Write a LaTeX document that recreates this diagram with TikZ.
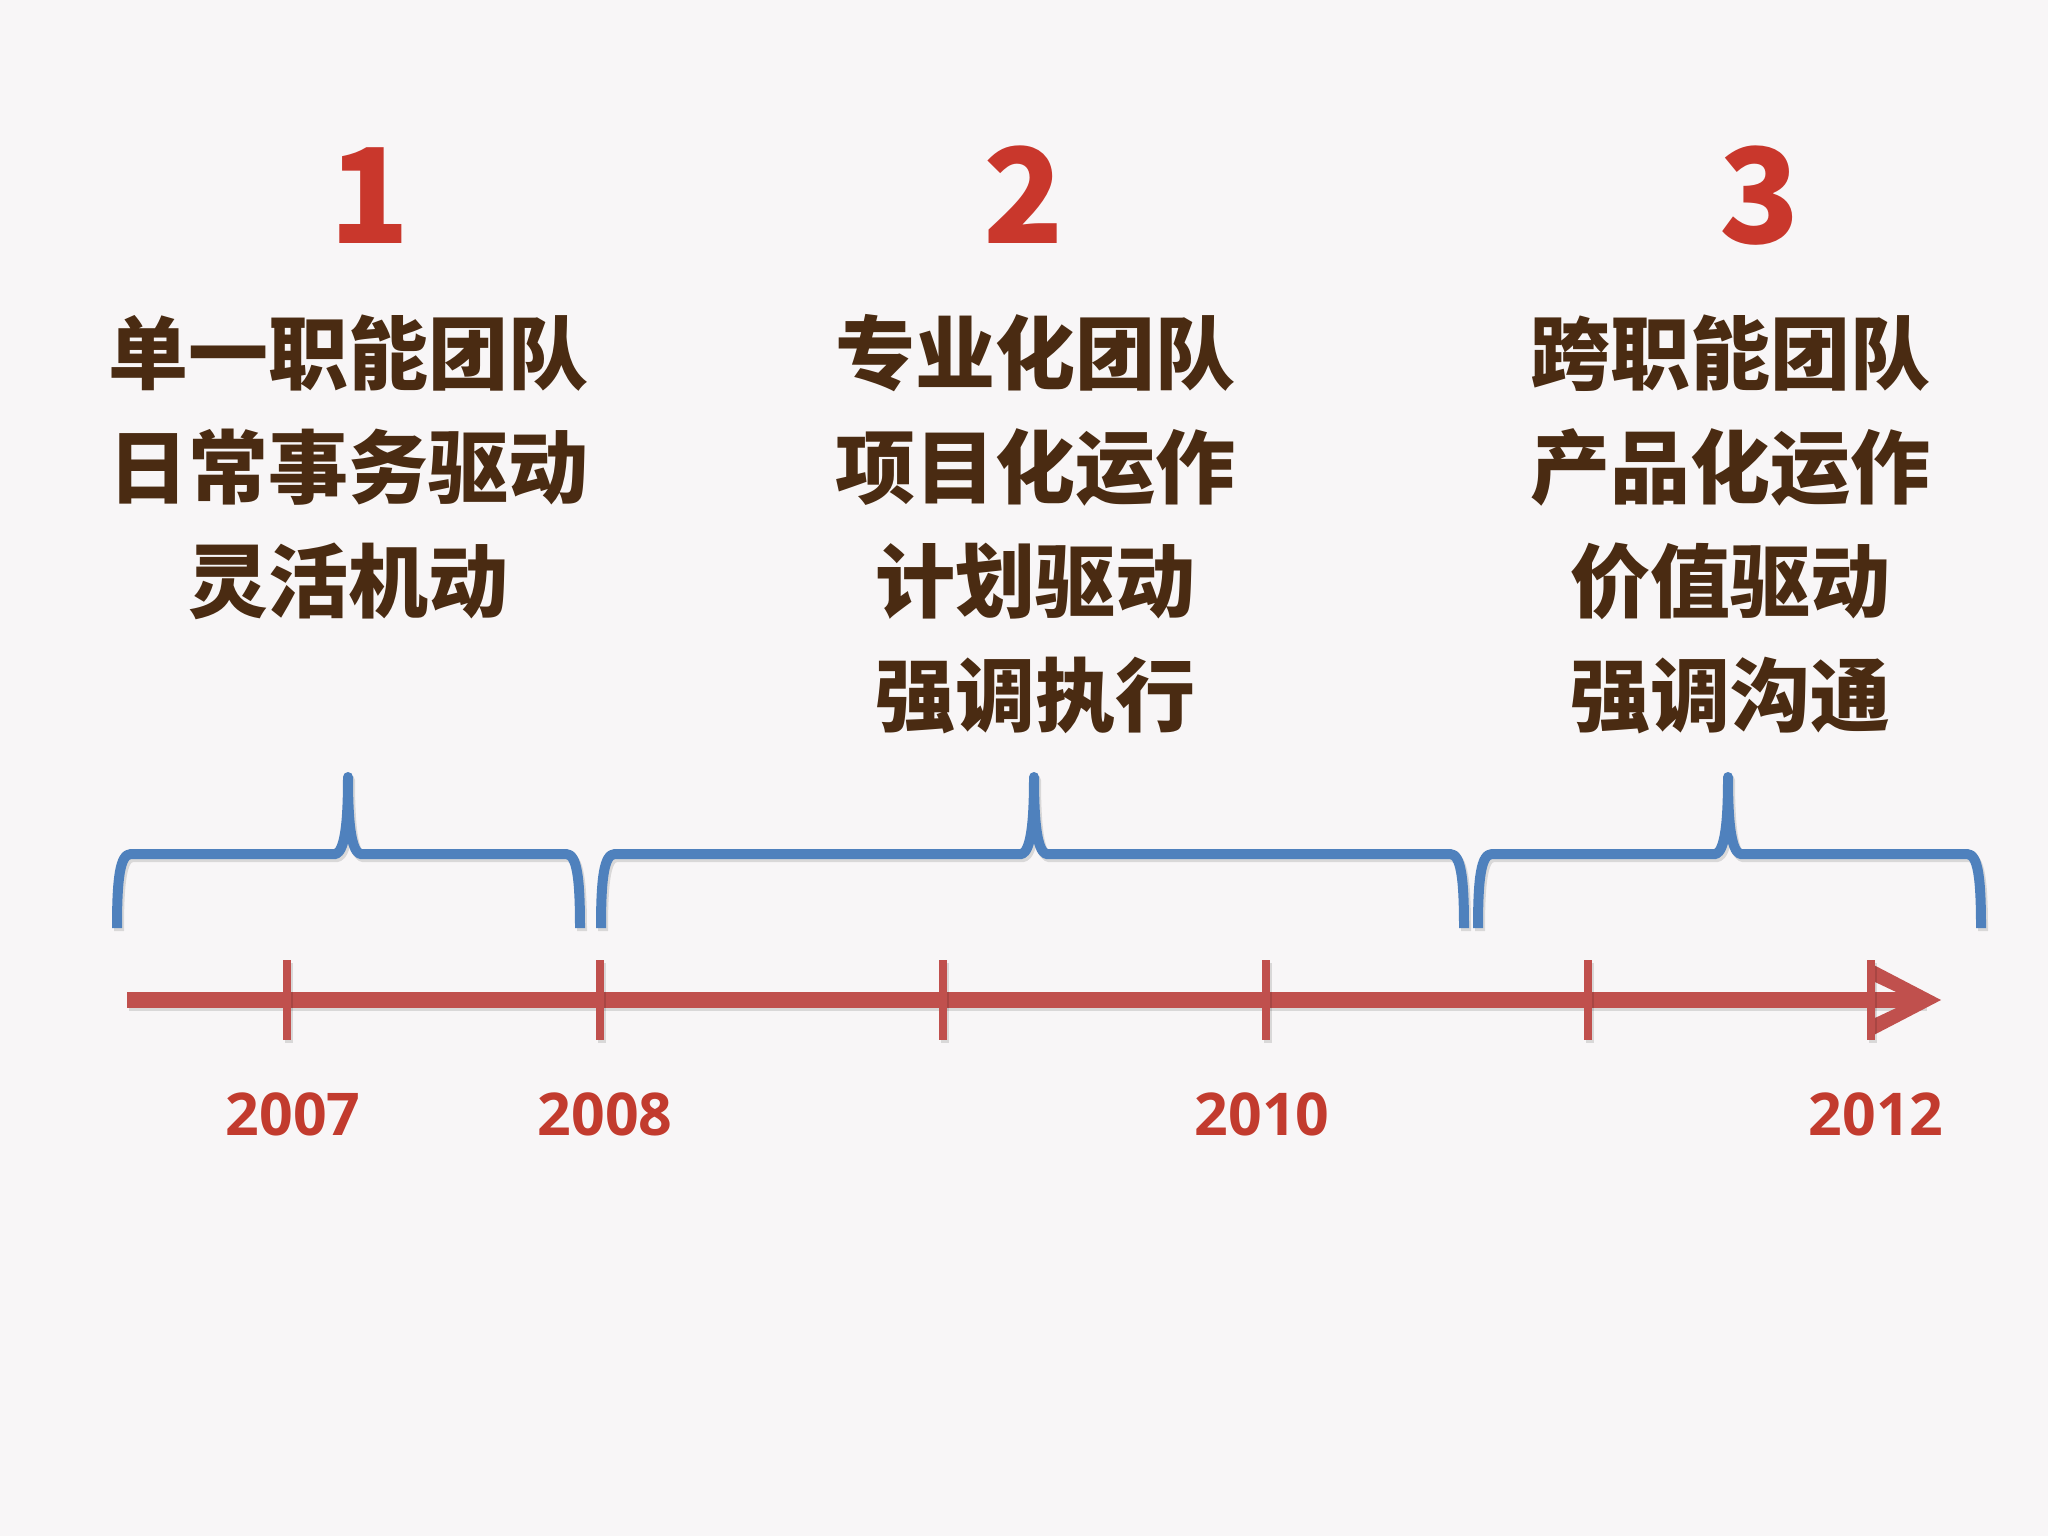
\documentclass[tikz,border=0pt]{standalone}
\usepackage{fontspec}
\newfontfamily\cjk{Noto Sans CJK SC}
\newfontfamily\numfont{Open Sans}
\definecolor{bgcol}{HTML}{F8F6F7}
\definecolor{txtbrown}{HTML}{4A2B12}
\definecolor{numred}{HTML}{C9372C}
\definecolor{yearred}{HTML}{C23B2E}
\definecolor{linered}{HTML}{C0504D}
\definecolor{braceblue}{HTML}{4F81BD}
\newcommand\tlbrace[4]{%
  \draw[#1] (#2,928) .. controls (#2,878) and (#2+3,854) .. (#2+14,854)
    -- (#3-12,854) .. controls (#3-3,850) and (#3,822) .. (#3,777)
    .. controls (#3,822) and (#3+3,850) .. (#3+12,854)
    -- (#4-14,854) .. controls (#4-3,854) and (#4,878) .. (#4,928);}
\begin{document}
\begin{tikzpicture}[x=0.5pt,y=-0.5pt,
  cjktext/.style={font=\cjk\bfseries\fontsize{40}{40}\selectfont, text=txtbrown, inner sep=0pt, anchor=base},
  bignum/.style={font=\cjk\bfseries\fontsize{66}{66}\selectfont, text=numred, inner sep=0pt, anchor=base},
  yearlbl/.style={font=\numfont\bfseries\fontsize{29.5}{29.5}\selectfont, text=yearred, inner sep=0pt, anchor=base},
  bracestyle/.style={draw=braceblue, line width=5pt, line join=round},
  braceshadow/.style={draw=black, opacity=0.12, line width=5pt, line join=round},
  axisline/.style={draw=linered, line width=8pt},
  tickmark/.style={draw=linered, line width=4pt},
  shadowline/.style={draw=black, opacity=0.12}]
\fill[bgcol] (0,0) rectangle (2048,1536);
\useasboundingbox (0,0) rectangle (2048,1536);

% numbers
\node[bignum] (n1) at (370,243) {1};
\node[bignum] (n2) at (1024,243) {2};
\node[bignum] (n3) at (1760,243) {3};

% column 1
\node[cjktext] (c1a) at (348,383) {单一职能团队};
\node[cjktext] (c1b) at (348,497) {日常事务驱动};
\node[cjktext] (c1c) at (348,611) {灵活机动};
% column 2
\node[cjktext] (c2a) at (1035,383) {专业化团队};
\node[cjktext] (c2b) at (1035,497) {项目化运作};
\node[cjktext] (c2c) at (1035,611) {计划驱动};
\node[cjktext] (c2d) at (1035,725) {强调执行};
% column 3
\node[cjktext] (c3a) at (1730,383) {跨职能团队};
\node[cjktext] (c3b) at (1730,497) {产品化运作};
\node[cjktext] (c3c) at (1730,611) {价值驱动};
\node[cjktext] (c3d) at (1730,725) {强调沟通};

% braces (shadow then brace)
\begin{scope}[shift={(2,3)}]
\tlbrace{braceshadow}{117}{348}{580}
\tlbrace{braceshadow}{601}{1034}{1464}
\tlbrace{braceshadow}{1478}{1728}{1981}
\end{scope}
\tlbrace{bracestyle}{117}{348}{580}
\tlbrace{bracestyle}{601}{1034}{1464}
\tlbrace{bracestyle}{1478}{1728}{1981}

% timeline
\coordinate (tstart) at (127,1000);
\coordinate (tend) at (1925,1000);
\draw[shadowline, line width=8pt] ([shift={(2,3)}]tstart) -- ([shift={(2,3)}]tend);
\draw[axisline] (tstart) -- (tend);
\fill[linered, even odd rule] (1868,962) -- (1941,1000) -- (1868,1038) -- cycle
   (1875,982) -- (1913,1000) -- (1875,1018) -- cycle;
\draw[axisline] (1870,1000) -- (1915,1000);
\foreach \x/\nm in {287/k1,600/k2,943/k3,1266/k4,1588/k5,1871/k6}{
  \draw[shadowline, line width=4pt] (\x+2,963) -- (\x+2,1043);
  \coordinate (\nm top) at (\x,960);
  \coordinate (\nm bot) at (\x,1040);
  \draw[tickmark] (\nm top) -- (\nm bot);
}

% years
\node[yearlbl] (y1) at (293,1135) {2007};
\node[yearlbl] (y2) at (605,1135) {2008};
\node[yearlbl] (y3) at (1262,1135) {2010};
\node[yearlbl] (y4) at (1876,1135) {2012};
\end{tikzpicture}
\end{document}
